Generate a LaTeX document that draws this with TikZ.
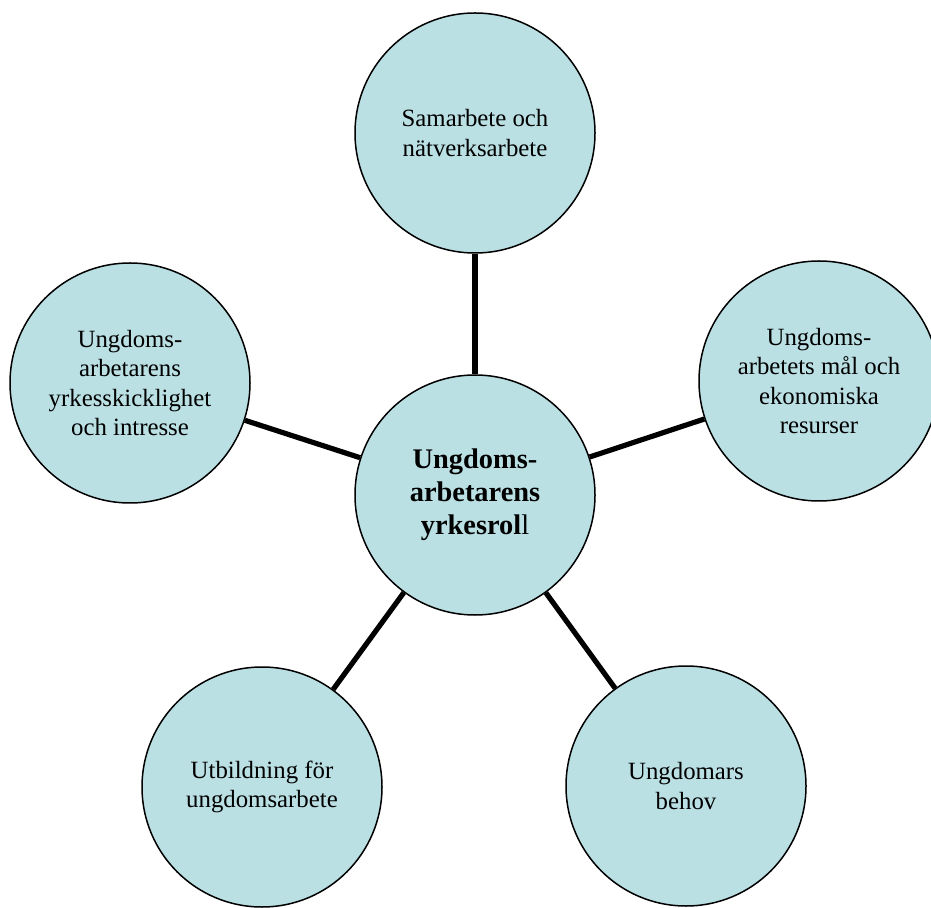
\documentclass[tikz,border=0pt]{standalone}
\usepackage{fontspec}
\setmainfont{Liberation Serif}
\definecolor{bubble}{RGB}{186,224,228}
\begin{document}
\begin{tikzpicture}[x=0.5pt,y=-0.5pt,
  bub/.style={circle,draw=black,line width=0.75pt,fill=bubble,minimum size=120pt,inner sep=0pt,align=center,font={\fontsize{12.4}{14.6}\selectfont}},
  hub/.style={bub,font={\fontsize{14.2}{16.5}\selectfont\bfseries}},
  conn/.style={line width=2.6pt,black}]
\useasboundingbox (0,0) rectangle (931,908);
\node[hub] (C) at (475,495) {Ungdoms-\\arbetarens\\yrkesrol\textmd{l}};
\node[bub] (T) at (475,133) {Samarbete och\\nätverksarbete};
\node[bub] (L) at (130,383) {Ungdoms-\\arbetarens\\yrkesskicklighet\\och intresse};
\node[bub] (R) at (819,381) {Ungdoms-\\arbetets mål och\\ekonomiska\\resurser};
\node[bub] (BL) at (262,787) {Utbildning för\\ungdomsarbete};
\node[bub] (BR) at (686,786) {Ungdomars\\behov};
\draw[conn] (C) -- (T);
\draw[conn] (C) -- (L);
\draw[conn] (C) -- (R);
\draw[conn] (C) -- (BL);
\draw[conn] (C) -- (BR);
\end{tikzpicture}
\end{document}
